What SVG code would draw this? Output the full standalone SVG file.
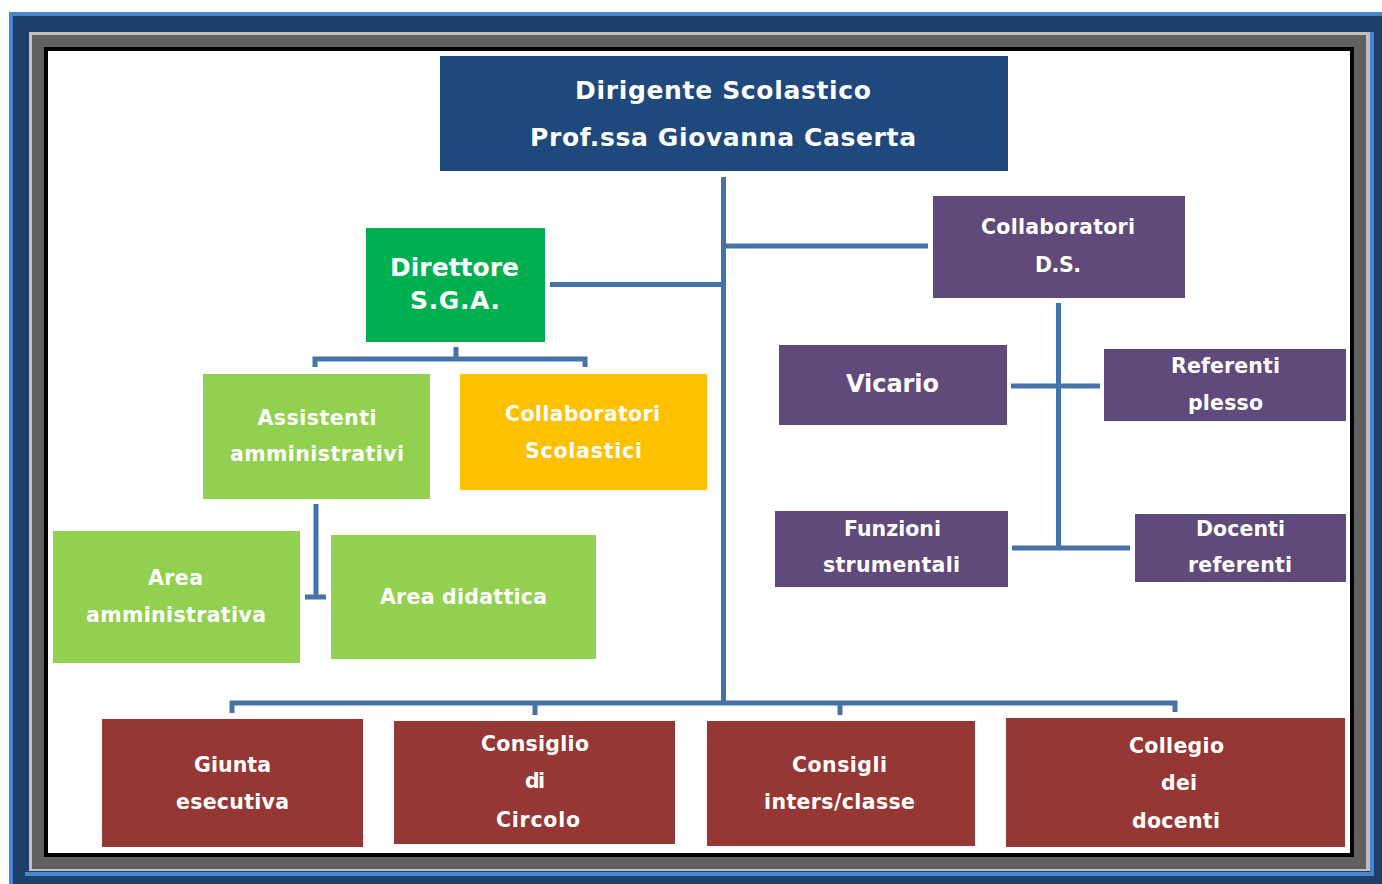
<svg xmlns="http://www.w3.org/2000/svg" width="1382" height="884" viewBox="0 0 1382 884">
<style>
.t{font-family:"DejaVu Sans","Verdana",sans-serif;font-weight:bold;fill:#ffffff;text-anchor:middle}
.s{font-size:20.5px}
.b{font-size:25px}
.c{fill:none;stroke:#4672AA;stroke-width:5}
.navy{fill:#1F497D}.pur{fill:#604A7B}.grn{fill:#00B050}.lg{fill:#92D050}.gold{fill:#FFC000}.red{fill:#953735}
</style>
<g id="frame">
<rect x="9" y="12" width="1373" height="872" fill="#1D3F6C"/>
<rect x="9" y="12" width="1373" height="4" fill="#4A86D0"/>
<rect x="9" y="12" width="4" height="872" fill="#4A86D0"/>
<rect x="1370" y="32" width="4" height="844" fill="#4A86D0"/>
<rect x="25" y="872" width="1349" height="4" fill="#4A86D0"/>
<rect x="29" y="32" width="1341" height="839" fill="#C0C0C0"/>
<rect x="32" y="35" width="1334" height="834" fill="#606060"/>
<rect x="44" y="47" width="1310" height="810" fill="#000000"/>
<rect x="48" y="51" width="1302" height="802" fill="#FFFFFF"/>
</g>
<g id="connectors">
<path class="c" d="M723.5,177V705" stroke-width="6"/>
<path class="c" d="M726,246H928"/>
<path class="c" d="M550,284.5H723"/>
<path class="c" d="M456,347V359M315,367V359H585V367"/>
<path class="c" d="M316,504V597M305,597H326" stroke-width="6"/>
<path class="c" d="M1058.5,303V548" stroke-width="6"/>
<path class="c" d="M1011,386H1100"/>
<path class="c" d="M1012,548H1130"/>
<path class="c" d="M232,713V703H1175V712M535,703V715M840,703V715"/>
</g>
<g id="dirigente">
<rect class="navy" x="440" y="56" width="568" height="115"/>
<text class="t b" x="723" y="99" textLength="296" lengthAdjust="spacing">Dirigente Scolastico</text>
<text class="t b" x="723" y="146" textLength="386" lengthAdjust="spacing">Prof.ssa Giovanna Caserta</text>
</g>
<g id="collaboratori-ds">
<rect class="pur" x="933" y="196" width="252" height="102"/>
<text class="t s" x="1058" y="234" textLength="154" lengthAdjust="spacing">Collaboratori</text>
<text class="t s" x="1058" y="272" textLength="46" lengthAdjust="spacing">D.S.</text>
</g>
<g id="direttore">
<rect class="grn" x="366" y="228" width="179" height="114"/>
<text class="t" style="font-size:25px" x="454.5" y="276" textLength="129" lengthAdjust="spacing">Direttore</text>
<text class="t" style="font-size:25px" x="455" y="309" textLength="90" lengthAdjust="spacing">S.G.A.</text>
</g>
<g id="assistenti">
<rect class="lg" x="203" y="374" width="227" height="125"/>
<text class="t s" x="317" y="425" textLength="119" lengthAdjust="spacing">Assistenti</text>
<text class="t s" x="317" y="461" textLength="174" lengthAdjust="spacing">amministrativi</text>
</g>
<g id="collaboratori-scolastici">
<rect class="gold" x="460" y="374" width="247" height="116"/>
<text class="t s" x="582.5" y="421" textLength="155" lengthAdjust="spacing">Collaboratori</text>
<text class="t s" x="583.5" y="458" textLength="117" lengthAdjust="spacing">Scolastici</text>
</g>
<g id="area-amministrativa">
<rect class="lg" x="53" y="531" width="247" height="132"/>
<text class="t s" x="175.5" y="585" textLength="55" lengthAdjust="spacing">Area</text>
<text class="t s" x="176" y="622" textLength="180" lengthAdjust="spacing">amministrativa</text>
</g>
<g id="area-didattica">
<rect class="lg" x="331" y="535" width="265" height="124"/>
<text class="t s" x="463.5" y="604" textLength="167" lengthAdjust="spacing">Area didattica</text>
</g>
<g id="vicario">
<rect class="pur" x="779" y="345" width="228" height="80"/>
<text class="t" style="font-size:24px" x="892.5" y="392" textLength="93" lengthAdjust="spacing">Vicario</text>
</g>
<g id="referenti-plesso">
<rect class="pur" x="1104" y="349" width="242" height="72"/>
<text class="t s" x="1225.5" y="373" textLength="109" lengthAdjust="spacing">Referenti</text>
<text class="t s" x="1225.5" y="410" textLength="75" lengthAdjust="spacing">plesso</text>
</g>
<g id="funzioni-strumentali">
<rect class="pur" x="775" y="511" width="233" height="76"/>
<text class="t s" x="892.5" y="536" textLength="97" lengthAdjust="spacing">Funzioni</text>
<text class="t s" x="891.5" y="572" textLength="137" lengthAdjust="spacing">strumentali</text>
</g>
<g id="docenti-referenti">
<rect class="pur" x="1135" y="514" width="211" height="68"/>
<text class="t s" x="1240.5" y="536" textLength="89" lengthAdjust="spacing">Docenti</text>
<text class="t s" x="1240" y="572" textLength="104" lengthAdjust="spacing">referenti</text>
</g>
<g id="giunta">
<rect class="red" x="102" y="719" width="261" height="128"/>
<text class="t s" x="232.5" y="772" textLength="77" lengthAdjust="spacing">Giunta</text>
<text class="t s" x="232.5" y="809" textLength="113" lengthAdjust="spacing">esecutiva</text>
</g>
<g id="consiglio-circolo">
<rect class="red" x="394" y="721" width="281" height="123"/>
<text class="t s" x="535" y="751" textLength="108" lengthAdjust="spacing">Consiglio</text>
<text class="t s" x="535" y="788" textLength="20" lengthAdjust="spacing">di</text>
<text class="t s" x="538" y="827" textLength="84" lengthAdjust="spacing">Circolo</text>
</g>
<g id="consigli-interclasse">
<rect class="red" x="707" y="721" width="268" height="125"/>
<text class="t s" x="839.5" y="772" textLength="95" lengthAdjust="spacing">Consigli</text>
<text class="t s" x="839.5" y="809" textLength="151" lengthAdjust="spacing">inters/classe</text>
</g>
<g id="collegio-docenti">
<rect class="red" x="1006" y="718" width="339" height="129"/>
<text class="t s" x="1176.5" y="753" textLength="95" lengthAdjust="spacing">Collegio</text>
<text class="t s" x="1179" y="790" textLength="36" lengthAdjust="spacing">dei</text>
<text class="t s" x="1176" y="828" textLength="88" lengthAdjust="spacing">docenti</text>
</g>
</svg>
